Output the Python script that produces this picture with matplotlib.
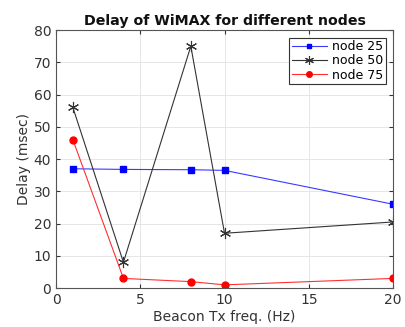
import matplotlib
matplotlib.use("Agg")
import matplotlib.pyplot as plt

freq = [1, 4, 8, 10, 20]
node25 = [37.0, 36.8, 36.7, 36.5, 26.0]
node50 = [56.0, 8.0, 75.0, 17.0, 20.5]
node75 = [46.0, 3.0, 2.0, 1.0, 3.0]
labels = ["node 25", "node 50", "node 75"]

plt.rcParams["font.family"] = "DejaVu Sans"
fig = plt.figure(figsize=(4.06, 3.27), dpi=100)
ax = fig.add_axes([0.138, 0.119, 0.830, 0.789])

ax.plot(freq, node25, color="#3a3aff", lw=0.8, marker="s", ms=4,
        mfc="#0000ff", mec="#0000ff", label=labels[0])
ax.plot(freq, node50, color="#333333", lw=0.8, marker=(6, 2, 0), ms=8,
        mec="#333333", mew=0.8, label=labels[1])
ax.plot(freq, node75, color="#ff3030", lw=0.8, marker="o", ms=5,
        mfc="#ff0000", mec="#ff0000", label=labels[2])

ax.set_xlim(0, 20)
ax.set_ylim(0, 80)
ax.set_xticks([0, 5, 10, 15, 20])
ax.set_yticks(range(0, 81, 10))
ax.grid(True, color="#e6e6e6", lw=0.7)
ax.set_axisbelow(True)
for s in ax.spines.values():
    s.set_color("#555555")
    s.set_linewidth(0.8)
ax.tick_params(labelsize=10, colors="#333333", length=3, direction="in",
               top=True, right=True)
ax.set_xlabel("Beacon Tx freq. (Hz)", fontsize=10, color="#333333", labelpad=2)
ax.set_ylabel("Delay (msec)", fontsize=10, color="#333333", labelpad=2)
ax.set_title("Delay of WiMAX for different nodes", fontsize=10.2,
             fontweight="bold", color="#111111", pad=4)
leg = ax.legend(loc="upper right", fontsize=9, fancybox=False,
                framealpha=1, edgecolor="#333333", borderpad=0.2,
                handlelength=2.8, labelspacing=0.1, borderaxespad=0.6,
                handletextpad=0.4, markerscale=0.8)
leg.get_frame().set_linewidth(0.8)

fig.savefig("out.png", dpi=100)
